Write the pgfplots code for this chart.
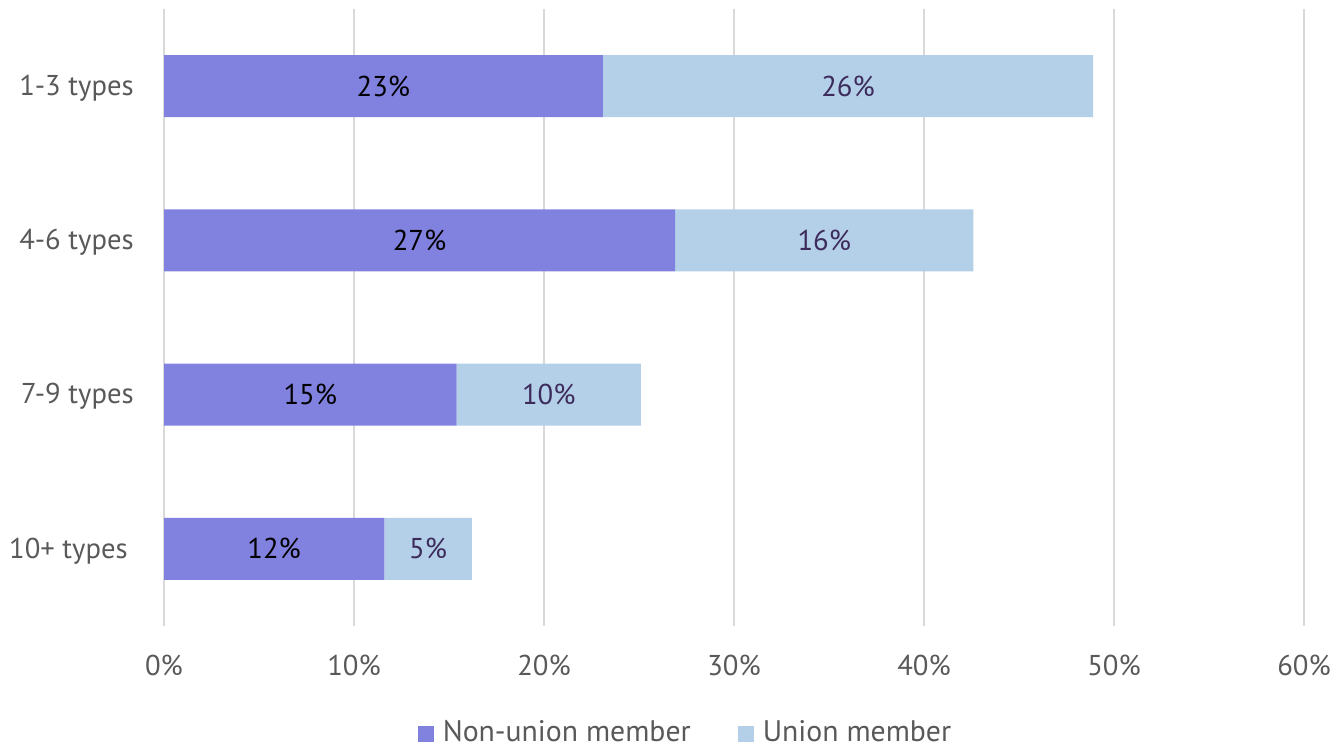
\documentclass[border=0pt]{standalone}
\usepackage{pgfplots}
\pgfplotsset{compat=1.18}
\usepackage{fontspec}
\setmainfont{PT Sans}
\definecolor{nonunion}{HTML}{8181E0}
\definecolor{union}{HTML}{B4D0E8}
\definecolor{gridc}{HTML}{D9D9D9}
\definecolor{txt}{HTML}{595959}
\definecolor{ulab}{HTML}{3D2B5C}
\begin{document}
\begin{tikzpicture}
\path[use as bounding box] (0,0) rectangle (1007.25pt,561pt);
\begin{axis}[
  at={(123pt,91.5pt)}, anchor=south west,
  scale only axis, width=855pt, height=462.75pt,
  xbar stacked, bar width=46.5pt,
  xmin=0, xmax=60, ymin=-0.5, ymax=3.5,
  xtick={0,10,...,60},
  xticklabel={\pgfmathprintnumber{\tick}\%},
  /pgf/number format/assume math mode=true,
  ytick={0,1,2,3},
  yticklabels={10+ types\kern4.5pt,7-9 types,4-6 types,1-3 types},
  xmajorgrids, grid style={gridc, line width=1.2pt},
  axis line style={draw=none}, tick style={draw=none},
  major tick length=0pt,
  ticklabel style={font=\fontsize{21.5}{24}\selectfont, text=txt},
  yticklabel style={inner sep=0pt, xshift=-22.5pt, yshift=-1.5pt},
  xticklabel style={inner sep=0pt, yshift=-21.5pt},
  legend style={at={(axis description cs:0.457,-0.172)}, anchor=center, draw=none,
    inner sep=0pt, outer sep=0pt,
    font=\fontsize{22.3}{24}\selectfont, text=txt, legend columns=2,
    nodes={inner sep=0.5pt},
    /tikz/every odd column/.append style={column sep=6pt},
    /tikz/every even column/.append style={column sep=35pt}},
  legend image code/.code={\fill[#1] (0pt,-7.5pt) rectangle (12pt,4.5pt);},
  visualization depends on=rawx \as \rawx,
  nodes near coords={\pgfmathprintnumber[fixed,precision=0]{\rawx}\%},
  every node near coord/.append style={anchor=center, font=\fontsize{21.5}{24}\selectfont},
]
\addplot[fill=nonunion, draw=none, every node near coord/.append style={text=black}] coordinates {(11.6,0) (15.4,1) (26.9,2) (23.1,3)};
\addplot[fill=union, draw=none, every node near coord/.append style={text=ulab}] coordinates {(4.6,0) (9.7,1) (15.7,2) (25.8,3)};
\legend{Non-union member, Union member}
\end{axis}
\end{tikzpicture}
\end{document}
